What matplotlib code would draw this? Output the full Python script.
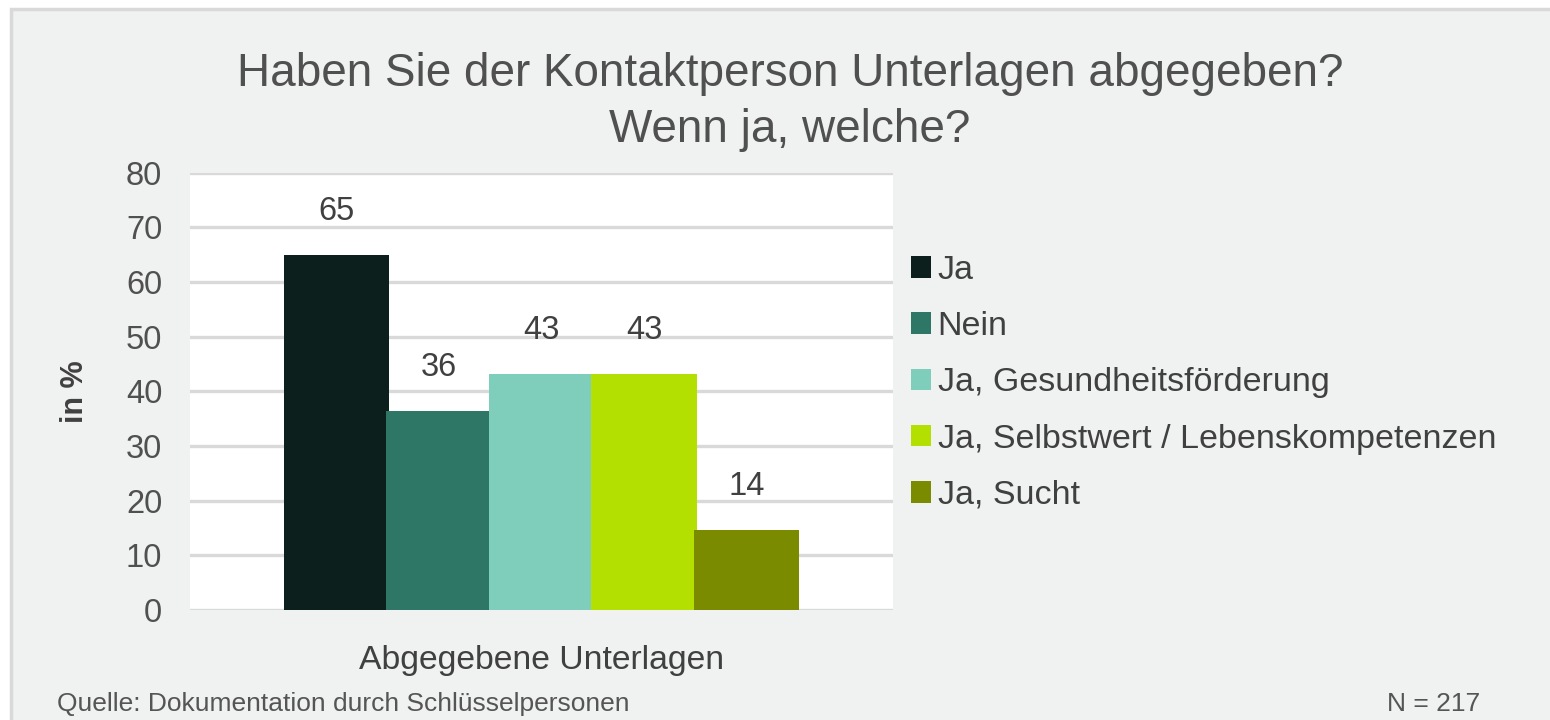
#coding utf-8

"""
Balkendiagramm: Haben Sie der Kontaktperson Unterlagen abgegeben?
"""

import matplotlib
matplotlib.use('Agg')
import matplotlib.pyplot as plt
from matplotlib.patches import Rectangle, Patch

plt.rcParams['font.family'] = ['Liberation Sans', 'DejaVu Sans']

# Daten
kategorien = ['Ja', 'Nein', 'Ja, Gesundheitsförderung',
              'Ja, Selbstwert / Lebenskompetenzen', 'Ja, Sucht']
werte = [65.0, 36.4, 43.2, 43.2, 14.6]
farben = ['#0d1f1c', '#2e7766', '#7fcdbb', '#b3e000', '#7a8b00']
gruppe = 'Abgegebene Unterlagen'
y_ticks = [0, 10, 20, 30, 40, 50, 60, 70, 80]

text_farbe = '#505050'
gitter_farbe = '#d9d9d9'

# Figur
fig = plt.figure(figsize=(15.5, 7.2), dpi=100)
fig.patch.set_facecolor('white')
# Hintergrund mit grauem Rahmen oben/links
fig.patches.append(Rectangle((11 / 1550, -0.1), 1.2, 1 - 9 / 720 + 0.1,
                             transform=fig.transFigure, facecolor='#f0f1f1',
                             edgecolor=gitter_farbe, linewidth=2.5, zorder=-10))

ax = fig.add_axes([190 / 1550, 1 - 610 / 720, 703 / 1550, (610 - 172.7) / 720])
ax.set_zorder(1)
ax.set_facecolor('white')

# Balken
n = len(werte)
positionen = [i - (n - 1) / 2 for i in range(n)]
ax.bar(positionen, werte, width=1.03, color=farben, zorder=3)

for pos, w in zip(positionen, werte):
    ax.annotate('%d' % w, (pos, w), xytext=(0, 20), textcoords='offset points',
                ha='center', va='bottom', fontsize=23.5, color='#404040')

ax.set_xlim(-3.43, 3.43)
ax.set_ylim(0, 80)
ax.set_yticks(y_ticks)
ax.yaxis.grid(True, color=gitter_farbe, linewidth=2.4, zorder=0)
ax.set_axisbelow(True)
for s in ax.spines.values():
    s.set_visible(False)
ax.tick_params(axis='y', length=0, pad=20, labelsize=23.5, labelcolor=text_farbe)
ax.set_xticks([])
ax.set_xlabel(gruppe, fontsize=24.3, color='#404040', labelpad=25)
ax.set_ylabel('in %', fontsize=22, color='#404040', fontweight='bold', labelpad=26)

# Legende
handles = [Patch(facecolor=f, edgecolor='none') for f in farben]
fig.legend(handles, kategorien, loc='upper left',
           bbox_to_anchor=(911 / 1550, 1 - 255 / 720),
           frameon=False, fontsize=24.5, borderpad=0, borderaxespad=0,
           handlelength=0.6, handleheight=0.6, handletextpad=0.18,
           labelspacing=0.74, labelcolor='#404040')

# Titel
fig.text(790 / 1550, 1 - 102 / 720, 'Haben Sie der Kontaktperson Unterlagen abgegeben?\nWenn ja, welche?',
         ha='center', va='center', fontsize=33, color='#505050', linespacing=1.33)

# Quelle und N
fig.text(57 / 1550, 1 - 704 / 720, 'Quelle: Dokumentation durch Schlüsselpersonen',
         ha='left', va='center', fontsize=19, color='#555555')
fig.text(1480 / 1550, 1 - 704 / 720, 'N = 217', ha='right', va='center',
         fontsize=19, color='#555555')

fig.savefig('out.png', dpi=100)
